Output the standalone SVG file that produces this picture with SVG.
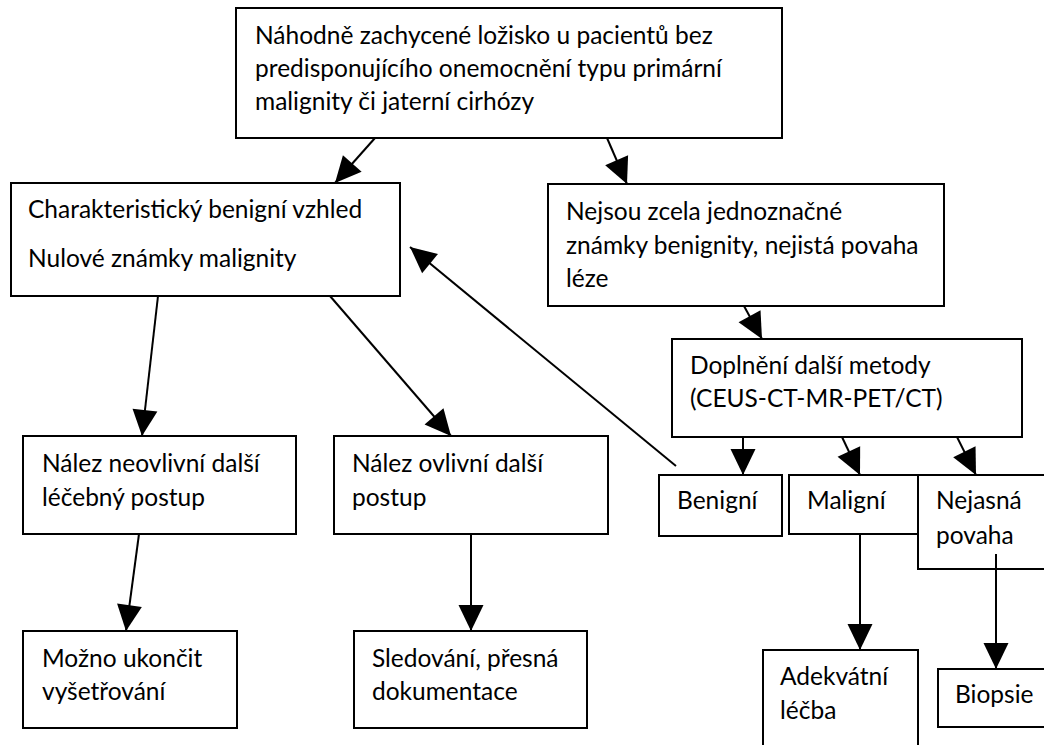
<svg xmlns="http://www.w3.org/2000/svg" width="1044" height="745" viewBox="0 0 1044 745">
<style>
rect{fill:#fff;stroke:#000;stroke-width:2}
text{font-family:Lato,"Open Sans","Liberation Sans",sans-serif;font-size:24.5px;fill:#000}
.c line{stroke:#000;stroke-width:2;marker-end:url(#ah)}
</style>
<defs>
<marker id="ah" markerUnits="userSpaceOnUse" markerWidth="27" markerHeight="25" refX="26" refY="12.5" orient="auto" overflow="visible">
<path d="M0,0 L26,12.5 L0,25 Z" fill="#000"/>
</marker>
</defs>
<rect x="0" y="0" width="1044" height="745" style="fill:#fff;stroke:none"/>
<g id="n-top"><rect x="236" y="8" width="546" height="130"/><text x="255" y="44">Náhodně zachycené ložisko u pacientů bez</text><text x="255" y="77">predisponujícího onemocnění typu primární</text><text x="255" y="110">malignity či jaterní cirhózy</text></g>
<g id="n-benign-look"><rect x="11" y="183" width="389" height="113"/><text x="28" y="218">Charakteristický benigní vzhled</text><text x="28" y="267">Nulové známky malignity</text></g>
<g id="n-unclear"><rect x="548" y="184" width="396" height="122"/><text x="566" y="220">Nejsou zcela jednoznačné</text><text x="566" y="254">známky benignity, nejistá povaha</text><text x="566" y="287">léze</text></g>
<g id="n-method"><rect x="672" y="339" width="350" height="98"/><text x="690" y="374">Doplnění další metody</text><text x="690" y="407">(CEUS-CT-MR-PET/CT)</text></g>
<g id="n-neovlivni"><rect x="23" y="436" width="273" height="98"/><text x="42" y="472">Nález neovlivní další</text><text x="42" y="506">léčebný postup</text></g>
<g id="n-ovlivni"><rect x="334" y="436" width="274" height="98"/><text x="352" y="472">Nález ovlivní další</text><text x="352" y="506">postup</text></g>
<g id="n-mozno"><rect x="23" y="631" width="214" height="97"/><text x="42" y="667">Možno ukončit</text><text x="42" y="700">vyšetřování</text></g>
<g id="n-sledovani"><rect x="354" y="631" width="233" height="97"/><text x="372" y="667">Sledování, přesná</text><text x="372" y="700">dokumentace</text></g>
<g id="n-benigni"><rect x="659" y="475" width="123" height="61"/><text x="677" y="509">Benigní</text></g>
<g id="n-nejasna"><rect x="918" y="475" width="140" height="94"/><text x="936" y="509">Nejasná</text><text x="936" y="544">povaha</text></g>
<g id="n-maligni"><rect x="789" y="475" width="129" height="59"/><text x="807" y="509">Maligní</text></g>
<g id="n-adekvatni"><rect x="763" y="650" width="155" height="110"/><text x="780" y="685">Adekvátní</text><text x="780" y="719">léčba</text></g>
<g id="n-biopsie"><rect x="938" y="669" width="120" height="58"/><text x="955" y="703">Biopsie</text></g>
<g id="connectors" class="c">
<line x1="375" y1="138" x2="335" y2="183"/>
<line x1="607" y1="138" x2="627" y2="184"/>
<line x1="158" y1="296" x2="142" y2="436"/>
<line x1="330" y1="296" x2="451" y2="436"/>
<line x1="139" y1="534" x2="126" y2="631"/>
<line x1="471" y1="534" x2="471" y2="631"/>
<line x1="744" y1="306" x2="762" y2="339"/>
<line x1="743" y1="437" x2="743" y2="475"/>
<line x1="842" y1="437" x2="860" y2="475"/>
<line x1="957" y1="437" x2="976" y2="475"/>
<line x1="860" y1="534" x2="860" y2="650"/>
<line x1="996" y1="554" x2="996" y2="669"/>
<line x1="676" y1="466" x2="410" y2="247"/>
</g>
</svg>
